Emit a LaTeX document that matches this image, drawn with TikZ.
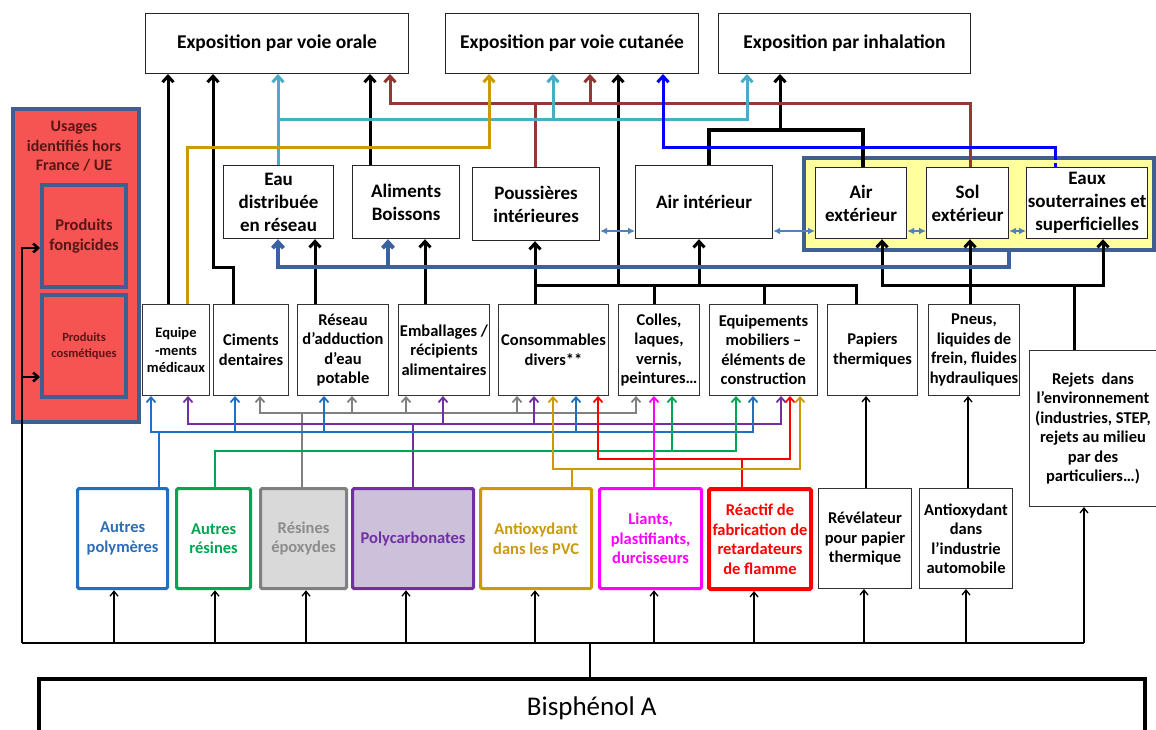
\documentclass[tikz,border=0pt]{standalone}
\usepackage{fontspec}
\setmainfont{Carlito}
\usetikzlibrary{arrows.meta,calc}
\definecolor{cbrown}{HTML}{953735}
\definecolor{ccyan}{HTML}{4BACC6}
\definecolor{cgold}{HTML}{CC9A06}
\definecolor{cgoldtext}{HTML}{C99A10}
\definecolor{cblue}{HTML}{0000FF}
\definecolor{csteel}{HTML}{3A62A0}
\definecolor{cdbl}{HTML}{4F81BD}
\definecolor{cyellow}{HTML}{FFFF9E}
\definecolor{cframe}{HTML}{3E5F8F}
\definecolor{cpoly}{HTML}{1F70C1}
\definecolor{cpolytext}{HTML}{2E6DB4}
\definecolor{cgreen}{HTML}{00A651}
\definecolor{cgray}{HTML}{808080}
\definecolor{cgraytext}{HTML}{8C8C8C}
\definecolor{cgrayfill}{HTML}{D9D9D9}
\definecolor{cpurple}{HTML}{7030A0}
\definecolor{cpurplefill}{HTML}{CCC0DA}
\definecolor{cmag}{HTML}{FF00FF}
\definecolor{cred}{HTML}{FF0000}
\definecolor{credfill}{HTML}{F65353}
\definecolor{credtext}{HTML}{5A1515}
\begin{document}
\begin{tikzpicture}[x=1pt,y=-1pt,
  base/.style={anchor=north west, inner sep=0pt, align=center, fill=white},
  topbox/.style={base, draw=black!85, line width=1pt, font=\bfseries\fontsize{19.5}{23}\selectfont},
  midbox/.style={base, draw=black!85, line width=1.2pt, font=\bfseries\fontsize{19}{23}\selectfont},
  botbox/.style={base, draw=black!80, line width=1pt, font=\bfseries\fontsize{16.5}{19.5}\selectfont},
  colbox/.style={base, line width=3.2pt, rounded corners=1.5pt, font=\bfseries\fontsize{16.5}{19.5}\selectfont},
  redbox/.style={anchor=north west, inner sep=0pt, align=center, draw=cframe, line width=4pt, fill=credfill, text=credtext},
  bigtip/.tip={Straight Barb[length=6pt,width=11pt]},
  smtip/.tip={Straight Barb[length=5pt,width=9pt]},
  bustip/.tip={Straight Barb[length=5pt,width=8pt]},
  dbltip/.tip={Latex[length=7pt,width=7pt]},
  blk/.style={draw=black, line width=3pt},
  brn/.style={draw=cbrown, line width=3pt},
  cyn/.style={draw=ccyan, line width=3pt},
  gld/.style={draw=cgold, line width=3pt},
  blu/.style={draw=cblue, line width=3pt},
  stl/.style={draw=csteel, line width=4pt},
  dbl/.style={draw=cdbl, line width=1.5pt, dbltip-dbltip},
  gry/.style={draw=cgray, line width=1.8pt},
  prp/.style={draw=cpurple, line width=1.8pt},
  pol/.style={draw=cpoly, line width=1.8pt},
  grn/.style={draw=cgreen, line width=1.8pt},
  rd/.style={draw=cred, line width=1.8pt},
  gl2/.style={draw=cgold, line width=1.8pt},
  mag/.style={draw=cmag, line width=1.8pt},
  bus/.style={draw=black, line width=1.3pt},
]
\useasboundingbox (0,0) rectangle (1156,729);
\clip (0,0) rectangle (1156,729);

% ---------- top row ----------
\node[topbox, minimum width=263pt, minimum height=60pt] (orale) at (145,13) {Exposition par voie orale};
\node[topbox, minimum width=253pt, minimum height=60pt] (cutanee) at (445,13) {Exposition par voie cutanée};
\node[topbox, minimum width=252pt, minimum height=60pt] (inhal) at (718,13) {Exposition par inhalation};

% ---------- middle row ----------
\node[anchor=north west, draw=cframe, line width=4pt, fill=cyellow, minimum width=350pt, minimum height=92pt, inner sep=0pt] (yellow) at (802,156) {};
\node[midbox, minimum width=110pt, minimum height=73pt] (eau) at (223,165) {Eau\\distribuée\\en réseau};
\node[midbox, minimum width=107pt, minimum height=73pt] (alim) at (352,165) {Aliments\\Boissons};
\node[midbox, minimum width=127pt, minimum height=73pt] (pouss) at (472,167) {Poussières\\intérieures};
\node[midbox, minimum width=137pt, minimum height=73pt] (airint) at (635,165) {Air intérieur};
\node[midbox, minimum width=91pt, minimum height=71pt] (airext) at (815,167) {Air\\extérieur};
\node[midbox, minimum width=82pt, minimum height=71pt] (sol) at (926,167) {Sol\\extérieur};
\node[midbox, minimum width=121pt, minimum height=71pt] (eaux) at (1026,167) {Eaux\\souterraines et\\superficielles};

% ---------- usage row ----------
\node[botbox, minimum width=67pt, minimum height=91pt, font=\bfseries\fontsize{14.5}{17.5}\selectfont] (equipe) at (142,304) {Equipe\\-ments\\médicaux};
\node[botbox, minimum width=75pt, minimum height=91pt] (ciments) at (213,304) {Ciments\\dentaires};
\node[botbox, minimum width=91pt, minimum height=91pt] (reseau) at (297,304) {Réseau\\d’adduction\\d’eau\\potable};
\node[botbox, minimum width=91pt, minimum height=91pt] (emball) at (398,304) {Emballages /\\récipients\\alimentaires};
\node[botbox, minimum width=110pt, minimum height=91pt] (conso) at (498,304) {Consommables\\divers**};
\node[botbox, minimum width=81pt, minimum height=91pt] (colles) at (618,304) {Colles,\\laques,\\vernis,\\peintures…};
\node[botbox, minimum width=108pt, minimum height=91pt] (equipmob) at (709,304) {Equipements\\mobiliers –\\éléments de\\construction};
\node[botbox, minimum width=90pt, minimum height=91pt] (papiers) at (827,304) {Papiers\\thermiques};
\node[botbox, minimum width=91pt, minimum height=91pt] (pneus) at (928,304) {Pneus,\\liquides de\\frein, fluides\\hydrauliques};
\node[botbox, minimum width=127pt, minimum height=156pt] (rejets) at (1029,350) {Rejets~ dans\\l’environnement\\(industries, STEP,\\rejets au milieu\\par des\\particuliers…)};

% ---------- source row ----------
\node[colbox, draw=cpoly, text=cpolytext, minimum width=90pt, minimum height=100pt] (autpoly) at (76,487) {Autres\\polymères};
\node[colbox, draw=cgreen, text=cgreen, minimum width=74pt, minimum height=100pt] (autres) at (175,487) {Autres\\résines};
\node[colbox, draw=cgray, fill=cgrayfill, text=cgraytext, minimum width=86pt, minimum height=100pt] (epoxy) at (259,487) {Résines\\époxydes};
\node[colbox, draw=cpurple, fill=cpurplefill, text=cpurple, minimum width=121pt, minimum height=100pt] (polycarb) at (351,487) {Polycarbonates};
\node[colbox, draw=cgold, text=cgoldtext, minimum width=111pt, minimum height=100pt] (antiox) at (479,487) {Antioxydant\\dans les PVC};
\node[colbox, draw=cmag, text=cmag, minimum width=102pt, minimum height=100pt] (liants) at (598,487) {Liants,\\plastifiants,\\durcisseurs};
\node[colbox, draw=cred, text=cred, line width=4pt, minimum width=102pt, minimum height=100pt] (reactif) at (707,487) {Réactif de\\fabrication de\\retardateurs\\de flamme};
\node[botbox, minimum width=93pt, minimum height=100pt] (revel) at (818,488) {Révélateur\\pour papier\\thermique};
\node[botbox, minimum width=93pt, minimum height=100pt] (antioxauto) at (919,488) {Antioxydant\\dans\\l’industrie\\automobile};

% ---------- Bisphenol ----------
\node[anchor=north west, draw=black, line width=3.5pt, minimum width=1106pt, minimum height=60pt, inner sep=0pt, font=\fontsize{27}{32}\selectfont] (bisph) at (37,677) {Bisphénol A};

% ---------- red box ----------
\node[redbox, minimum width=126pt, minimum height=313pt] (usages) at (11,107) {};
\node[anchor=north, align=center, inner sep=0pt, text=credtext, font=\bfseries\fontsize{16}{19.5}\selectfont] (usagestxt) at (74,121) {Usages\\identifiés hors\\France / UE};
\node[redbox, minimum width=84pt, minimum height=102pt, font=\bfseries\fontsize{16.5}{19.5}\selectfont] (fong) at (40,183) {Produits\\fongicides};
\node[redbox, minimum width=84pt, minimum height=102pt, font=\bfseries\fontsize{12.5}{15.5}\selectfont] (cosm) at (40,293) {Produits\\cosmétiques};

% ---------- thick black connectors ----------
\draw[blk,-bigtip] (168,0 |- equipe.north) -- (168,0 |- orale.south);
\draw[blk,-bigtip] (233,0 |- ciments.north) -- (233,267) -- (213,267) -- (213,0 |- orale.south);
\draw[blk,-bigtip] (370,0 |- alim.north) -- (370,0 |- orale.south);
\draw[blk,-bigtip] (315,0 |- reseau.north) -- (315,0 |- eau.south);
\draw[blk,-bigtip] (425,0 |- emball.north) -- (425,0 |- alim.south);
\draw[blk,-bigtip] (535,0 |- conso.north) -- (535,0 |- pouss.south);
\draw[blk] (535,285) -- (856,285) -- (856,0 |- papiers.north);
\draw[blk] (654,285) -- (654,0 |- colles.north);
\draw[blk] (764,285) -- (764,0 |- equipmob.north);
\draw[blk,-bigtip] (699,285) -- (699,0 |- airint.south);
\draw[blk,-bigtip] (618,285) -- (618,0 |- cutanee.south);
\draw[blk, line width=4pt] (709,0 |- airint.north) -- (709,130) -- (863,130) -- (863,0 |- airext.north);
\draw[blk,-bigtip] (780,130) -- (780,0 |- inhal.south);
\draw[blk,-bigtip] (970,0 |- pneus.north) -- (970,0 |- sol.south);
\draw[blk] (1074,0 |- rejets.north) -- (1074,285);
\draw[blk,bigtip-bigtip] (882,0 |- airext.south) -- (882,285) -- (1103,285) -- (1103,0 |- eaux.south);

% ---------- brown ----------
\draw[brn] (535,0 |- pouss.north) -- (535,103);
\draw[brn,bigtip-] (390,0 |- orale.south) -- (390,103) -- (970,103) -- (970,0 |- sol.north);
\draw[brn,-bigtip] (590,103) -- (590,0 |- cutanee.south);

% ---------- cyan ----------
\draw[cyn,-bigtip] (278,0 |- eau.north) -- (278,0 |- orale.south);
\draw[cyn,-bigtip] (278,119) -- (747,119) -- (747,0 |- inhal.south);
\draw[cyn,-bigtip] (553,119) -- (553,0 |- cutanee.south);

% ---------- gold ----------
\draw[gld,-bigtip] (187,0 |- equipe.north) -- (187,147) -- (489,147) -- (489,0 |- cutanee.south);

% ---------- blue ----------
\draw[blu,-bigtip] (1055,0 |- yellow.north) -- (1055,147) -- (663,147) -- (663,0 |- cutanee.south);
\draw[blu, dash pattern=on 4pt off 3pt] (1055,0 |- yellow.north) -- (1055,0 |- eaux.north);

% ---------- steel blue ----------
\draw[stl,-bigtip] (1009,0 |- yellow.south) -- (1009,267) -- (278,267) -- (278,0 |- eau.south);
\draw[stl,-bigtip] (388,267) -- (388,0 |- alim.south);

% ---------- double arrows ----------
\draw[dbl] (pouss.east |- 0,231) -- (airint.west |- 0,231);
\draw[dbl] (airint.east |- 0,231) -- (airext.west |- 0,231);
\draw[dbl] (airext.east |- 0,231) -- (sol.west |- 0,231);
\draw[dbl] (sol.east |- 0,231) -- (eaux.west |- 0,231);

% ---------- thin coloured connectors ----------
\draw[gry] (302,0 |- epoxy.north) -- (302,413);
\draw[gry,smtip-smtip] (260,0 |- ciments.south) -- (260,413) -- (636,413) -- (636,0 |- colles.south);
\draw[gry,-smtip] (352,413) -- (352,0 |- reseau.south);
\draw[gry,-smtip] (406,413) -- (406,0 |- emball.south);
\draw[gry,-smtip] (517,413) -- (517,0 |- conso.south);

\draw[prp] (413,0 |- polycarb.north) -- (413,424);
\draw[prp,smtip-smtip] (188,0 |- equipe.south) -- (188,424) -- (781,424) -- (781,0 |- equipmob.south);
\draw[prp,-smtip] (443,424) -- (443,0 |- emball.south);
\draw[prp,-smtip] (534,424) -- (534,0 |- conso.south);

\draw[pol] (159,0 |- autpoly.north) -- (159,432);
\draw[pol,smtip-smtip] (151,0 |- equipe.south) -- (151,432) -- (753,432) -- (753,0 |- equipmob.south);
\draw[pol,-smtip] (235,432) -- (235,0 |- ciments.south);
\draw[pol,-smtip] (324,432) -- (324,0 |- reseau.south);
\draw[pol,-smtip] (576,432) -- (576,0 |- conso.south);

\draw[grn,-smtip] (215,0 |- autres.north) -- (215,451) -- (736,451) -- (736,0 |- equipmob.south);
\draw[grn,-smtip] (672,451) -- (672,0 |- colles.south);

\draw[rd] (742,0 |- reactif.north) -- (742,459);
\draw[rd,smtip-smtip] (598,0 |- conso.south) -- (598,459) -- (790,459) -- (790,0 |- equipmob.south);

\draw[gl2] (572,0 |- antiox.north) -- (572,469);
\draw[gl2,smtip-smtip] (553,0 |- conso.south) -- (553,469) -- (800,469) -- (800,0 |- equipmob.south);

\draw[mag,-smtip] (654,0 |- liants.north) -- (654,0 |- colles.south);

% ---------- bottom bus ----------
\draw[bus] (590,0 |- bisph.north) -- (590,643);
\draw[bus] (22,643) -- (1084,643);
\foreach \xx/\nn in {114/autpoly,215/autres,306/epoxy,406/polycarb,535/antiox,654/liants,754/reactif,864/revel,966/antioxauto,1084/rejets}
  \draw[bus,-bustip] (\xx,643) -- (\xx,0 |- \nn.south);
\draw[bus,-bustip] (866,0 |- revel.north) -- (866,0 |- papiers.south);
\draw[bus,-bustip] (968,0 |- antioxauto.north) -- (968,0 |- pneus.south);
\draw[draw=black, line width=2.5pt,-smtip] (22,643) -- (22,248) -- (fong.west |- 0,248);
\draw[draw=black, line width=2.5pt,-smtip] (22,377) -- (cosm.west |- 0,377);
\end{tikzpicture}
\end{document}
